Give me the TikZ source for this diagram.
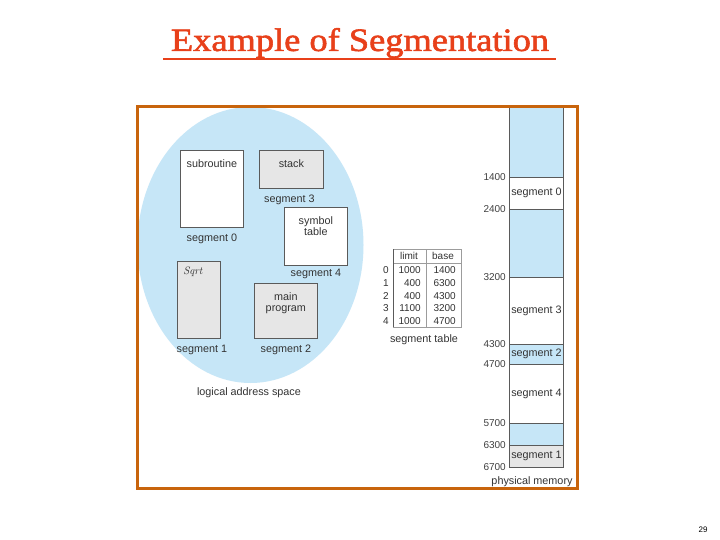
\documentclass[tikz,border=0pt]{standalone}
\usepackage{fontspec}
\setmainfont{Liberation Sans}
\newfontfamily\titlefont[FakeBold=1.8, FakeStretch=1.12]{Liberation Serif}
\usetikzlibrary{positioning}
\definecolor{framebrown}{RGB}{200,100,12}
\definecolor{titlered}{RGB}{232,64,26}
\definecolor{memblue}{RGB}{198,230,247}
\definecolor{boxgray}{RGB}{230,230,230}
\definecolor{linegray}{RGB}{90,90,90}
\begin{document}
\begin{tikzpicture}[x=1pt, y=-1pt,
    segbox/.style={draw=linegray, line width=0.7pt, anchor=north west, inner sep=0pt},
    lbl/.style={font=\fontsize{10.8}{11.5}\selectfont, text=black!80, inner sep=0pt, align=center},
    num/.style={font=\fontsize{10}{11}\selectfont, text=black!80, inner sep=0pt},
    small/.style={font=\fontsize{10}{11}\selectfont, text=black!75, inner sep=0pt}]
  \useasboundingbox[fill=white] (0,0) rectangle (720,540);

  % title
  \node(title) [text=titlered, inner sep=0pt] at (360,43) {\titlefont\fontsize{32.5}{36}\selectfont Example of Segmentation};
  \draw[titlered, line width=1.6pt] (163,59) -- (556,59);

  % logical address space
  \fill[memblue] (250.5,245) ellipse [x radius=113, y radius=138];
  \node(sub) [segbox, fill=white, minimum width=63, minimum height=77] at (180,150) {};
  \node(stk) [segbox, fill=boxgray, minimum width=64, minimum height=38] at (259,150) {};
  \node(sym) [segbox, fill=white, minimum width=63, minimum height=58] at (284,207) {};
  \node(sqr) [segbox, fill=boxgray, minimum width=43, minimum height=77] at (177,261) {};
  \node(mpg) [segbox, fill=boxgray, minimum width=63, minimum height=55] at (254,283) {};
  \node[lbl, below=9pt of sub.north] {subroutine};
  \node[lbl, below=9pt of stk.north] {stack};
  \node[lbl, below=9pt of sym.north] {symbol\\table};
  \node[lbl, below=6pt of sqr.north, xshift=-6pt] {\fontfamily{lmr}\itshape Sqrt};
  \node[lbl, below=9pt of mpg.north] {main\\program};
  \node[lbl, below=6pt of sub.south] {segment 0};
  \node[lbl, below=6pt of stk.south, xshift=-2pt] {segment 3};
  \node[lbl, below=3pt of sym.south] {segment 4};
  \node[lbl, below=6pt of sqr.south, xshift=3pt] {segment 1};
  \node[lbl, below=6pt of mpg.south] {segment 2};
  \node(las) [lbl] at (249,393) {logical address space};

  % segment table
  \draw[linegray!60, line width=0.5pt] (393,249) rectangle (461,327);
  \draw[linegray!60, line width=0.5pt] (393,263) -- (461,263) (426,249) -- (426,327);
  \draw[linegray, line width=0.9pt] (393,249) -- (393,327);
  \node[num] at (409,256) {limit};
  \node[num] at (443,256) {base};
  \foreach \lim/\bas [count=\r from 0] in {1000/1400, 400/6300, 400/4300, 1100/3200, 1000/4700} {
    \node[num] at (386,270+12.8*\r) {\r};
    \node[num, anchor=east] at (421,270+12.8*\r) {\lim};
    \node[num, anchor=east] at (456,270+12.8*\r) {\bas};
  }
  \node(stab) [lbl] at (424,340) {segment table};

  % physical memory
  \foreach \ya/\yb/\col/\txt in {107/177/memblue/, 177/209/white/segment 0, 209/277/memblue/,
      277/344/white/segment 3, 344/364/memblue/segment 2, 364/423/white/segment 4,
      423/445/memblue/, 445/467/boxgray/segment 1} {
    \draw[fill=\col, draw=linegray, line width=0.6pt] (509,\ya) rectangle (563,\yb);
    \node[lbl] at (536.5,{(\ya+\yb)/2}) {\txt};
  }
  \foreach \y/\adr in {177/1400, 209/2400, 277/3200, 344/4300, 364/4700, 423/5700, 445/6300, 467/6700}
    \node[small, anchor=east] at (506,\y) {\adr};
  \node(pmem) [lbl] at (532,482) {physical memory};

  % frame
  \draw[framebrown, line width=3pt] (137,107) rectangle (577,488);

  \node(page) [font=\fontsize{8}{9}\selectfont] at (703,530) {29};
\end{tikzpicture}
\end{document}
